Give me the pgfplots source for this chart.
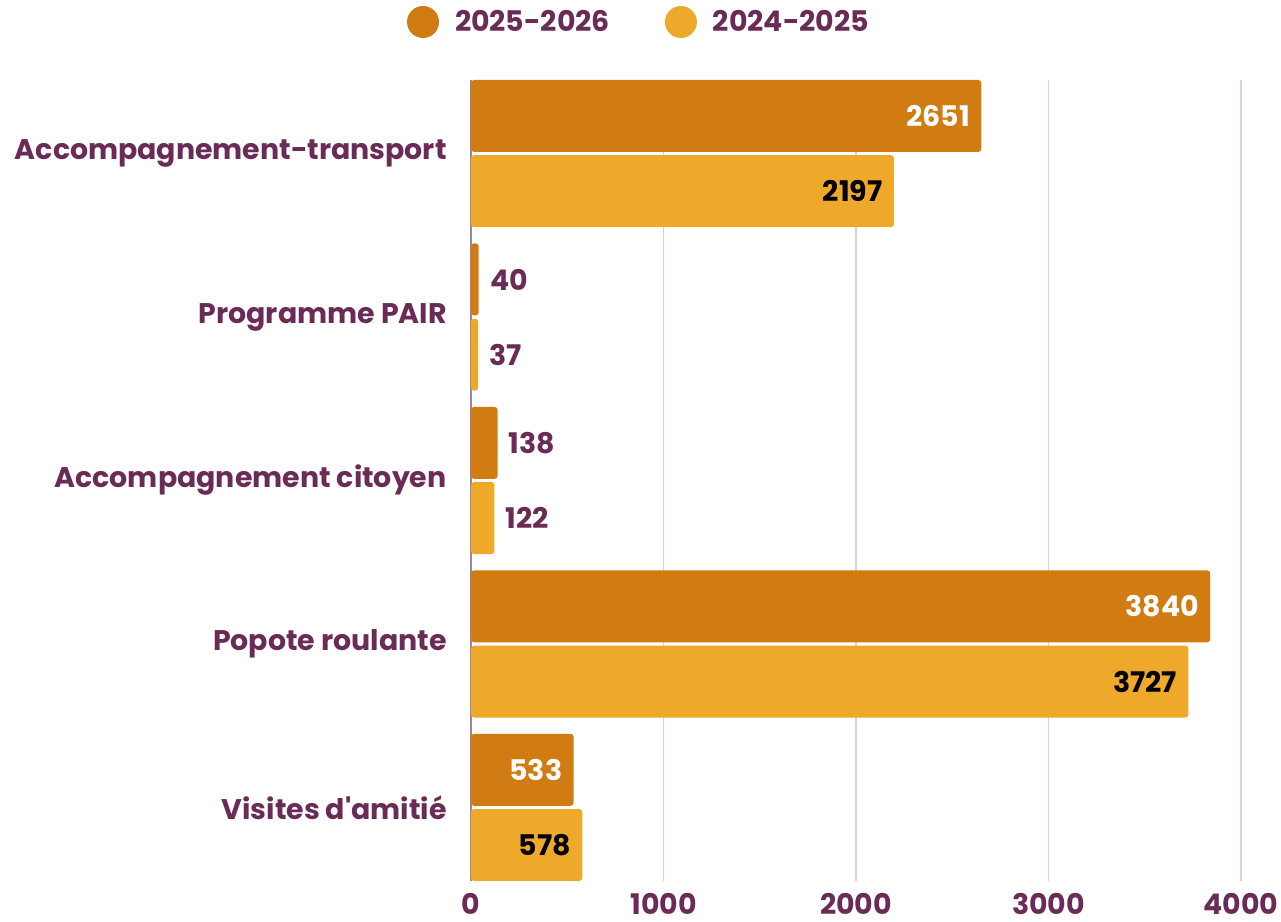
\documentclass[border=0pt]{standalone}
\usepackage{fontspec}
\setmainfont{Poppins}[Ligatures=TeXOff]
\usepackage{pgfplots}
\pgfplotsset{compat=1.18}

\definecolor{dark}{HTML}{D07C13}
\definecolor{light}{HTML}{EEA92B}
\definecolor{txt}{HTML}{6B2B57}
\definecolor{gridc}{HTML}{DDD0D9}
\definecolor{axisc}{HTML}{A08499}

\newcommand{\lblfont}{\bfseries\fontsize{14.2}{14.2}\selectfont}

\pgfplotsset{
    darkbar/.style={fill=dark, draw=none, rounded corners=1.5pt, bar shift=0.23},
    lightbar/.style={fill=light, draw=none, rounded corners=1.5pt, bar shift=-0.23},
    inside/.style={every node near coord/.append style={anchor=east, text=#1}},
}

\begin{document}
\begin{tikzpicture}
\begin{axis}[
    name=ax,
    width=385pt, height=400.5pt,
    scale only axis,
    xbar,
    xmin=0, xmax=4000,
    ymin=-0.45, ymax=4.45,
    xtick={0,1000,2000,3000,4000},
    ytick={0,1,2,3,4},
    yticklabels={Visites d'amitié, Popote roulante, Accompagnement citoyen, Programme PAIR, Accompagnement-transport},
    axis line style={draw=none},
    major tick length=0,
    xmajorgrids,
    grid style={draw=gridc, line width=0.6pt},
    extra x ticks={0},
    extra x tick labels={},
    extra x tick style={grid style={draw=axisc, line width=0.6pt}},
    /pgf/number format/1000 sep={},
    /pgf/number format/assume math mode=true,
    xticklabel style={font=\lblfont, text=txt, anchor=north, inner sep=0pt, yshift=-6pt},
    yticklabel style={font=\lblfont, text=txt, anchor=east, inner sep=0pt, xshift=-12pt},
    bar width=0.44,
    point meta=x,
    nodes near coords={\pgfmathprintnumber{\pgfplotspointmeta}},
    every node near coord/.append style={font=\lblfont, text=txt, anchor=west, inner xsep=5.5pt},
    legend columns=2,
    legend style={draw=none, fill=none, at={(0.2195,1.0724)}, anchor=center,
        font=\lblfont, text=txt,
        /tikz/every even column/.append style={column sep=25.5pt}},
    legend image code/.code={\fill[#1] (0pt,0pt) circle (8pt); \path (14pt,0pt);},
    clip=false,
]
% 2025-2026
\addplot[darkbar] coordinates {(40,3) (138,2)};
\addlegendentry{2025-2026}
\addplot[darkbar, inside=white, forget plot] coordinates {(2651,4) (3840,1) (533,0)};
% 2024-2025
\addplot[lightbar] coordinates {(37,3) (122,2)};
\addlegendentry{2024-2025}
\addplot[lightbar, inside=black, forget plot] coordinates {(2197,4) (3727,1) (578,0)};
\end{axis}
\path ([xshift=-235.5pt, yshift=-20.5pt]ax.south west) rectangle ([xshift=20pt, yshift=40pt]ax.north east);
\end{tikzpicture}
\end{document}
